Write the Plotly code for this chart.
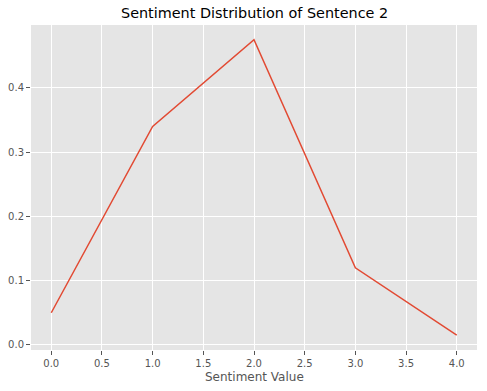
import plotly.graph_objects as go

sentiment_values = [0, 1, 2, 3, 4]
probabilities = [0.05, 0.34, 0.475, 0.12, 0.015]
x_ticks = [0.0, 0.5, 1.0, 1.5, 2.0, 2.5, 3.0, 3.5, 4.0]
y_ticks = [0.0, 0.1, 0.2, 0.3, 0.4]

W, H = 487, 391
ml, mr, mt, mb = 31, 10, 25, 41

fig = go.Figure()
fig.add_trace(go.Scatter(
    x=sentiment_values, y=probabilities, mode="lines",
    line=dict(color="#E24A33", width=1.5), hoverinfo="skip", showlegend=False))

span = max(probabilities) - min(probabilities)
yr = [min(probabilities) - 0.05 * span, max(probabilities) + 0.05 * span]
xs = max(sentiment_values) - min(sentiment_values)
xr = [min(sentiment_values) - 0.05 * xs, max(sentiment_values) + 0.05 * xs]

axis_common = dict(
    showgrid=True, gridcolor="white", gridwidth=1, zeroline=False, showline=False,
    ticks="outside", ticklen=4, tickwidth=1, tickcolor="#555555", automargin=False,
    tickfont=dict(family="DejaVu Sans", size=10, color="#555555"),
)

fig.update_layout(
    width=W, height=H,
    margin=dict(l=ml, r=mr, t=mt, b=mb, pad=0),
    paper_bgcolor="white", plot_bgcolor="#E5E5E5",
    xaxis=dict(range=xr, tickvals=x_ticks, ticktext=[f"{v:.1f}" for v in x_ticks], **axis_common),
    yaxis=dict(range=yr, tickvals=y_ticks, ticktext=[f"{v:.1f}" for v in y_ticks], **axis_common),
    font=dict(family="DejaVu Sans"),
    hovermode=False,
)

fig.add_annotation(text="Sentiment Distribution of Sentence 2", xref="paper", yref="paper",
                   x=0.5, y=1, yshift=12, yanchor="middle", xanchor="center", showarrow=False,
                   font=dict(family="DejaVu Sans", size=14.4, color="black"))
fig.add_annotation(text="Sentiment Value", xref="paper", yref="paper",
                   x=0.5, y=0, yshift=-27, yanchor="middle", xanchor="center", showarrow=False,
                   font=dict(family="DejaVu Sans", size=12, color="#555555"))

fig.write_html("out.html", config={"displayModeBar": False},
               post_script="document.body.style.margin='0px';document.body.style.overflow='hidden';")
